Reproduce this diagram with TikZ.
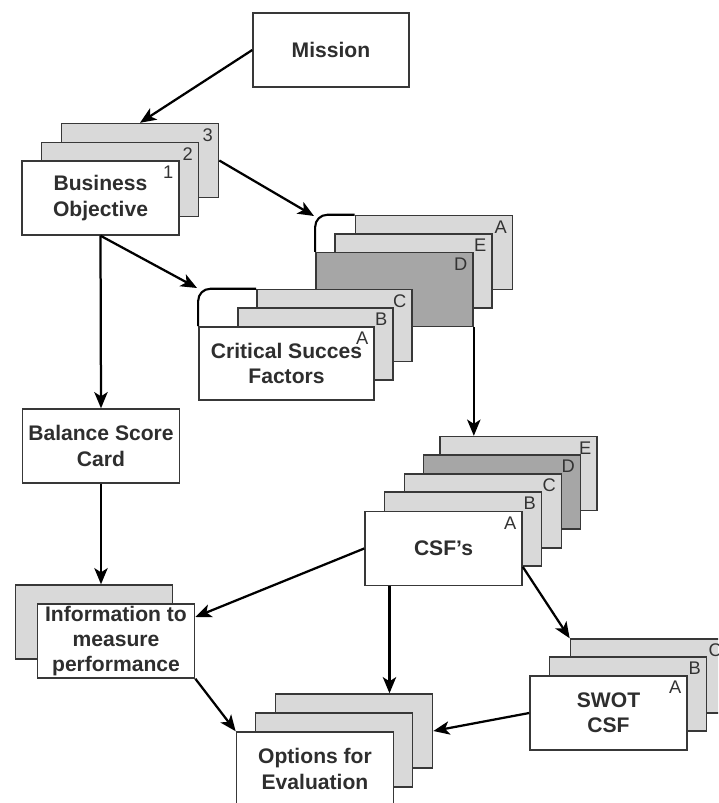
\documentclass[tikz,border=0pt]{standalone}
\usepackage{fontspec}
\setmainfont{Liberation Sans}
\usetikzlibrary{arrows.meta,positioning}

\definecolor{cardgray}{HTML}{D9D9D9}
\definecolor{cardshade}{HTML}{A6A6A6}

\begin{document}
\begin{tikzpicture}[
  x=0.025cm, y=-0.025cm,
  >={Stealth[length=11.5pt, width=9.5pt, inset=3pt]},
  card/.style={draw=black!78, line width=1pt, fill=white, minimum width=3.93cm,
               minimum height=1.85cm, inner sep=1pt, align=center, text=black!82,
               font=\fontsize{15}{18}\selectfont\bfseries},
  backcard/.style={card, fill=cardgray},
  shadecard/.style={card, fill=cardshade},
  tag/.style={anchor=north east, inner sep=0pt, text=black!80,
              font=\fontsize{13}{13}\selectfont},
  arr/.style={->, line width=1.6pt},
  tab/.style={line width=1.5pt, rounded corners=0.3cm},
]

\useasboundingbox (0,0) rectangle (718,803);
\clip (0,0) rectangle (718,803);

% ===== Mission =====
\node[card, minimum width=3.9cm] (mission) at (331,50) {Mission};

% ===== Business Objective (1,2,3) =====
\node[backcard] (bo3) at (140,160.5) {};
\node[backcard] (bo2) at (120,179.5) {};
\node[card] (bo1) at (100.5,198) {Business\\Objective};
\node[tag] at ([xshift=-4.5pt, yshift=-4pt]bo3.north east) {3};
\node[tag] at ([xshift=-4.5pt, yshift=-4pt]bo2.north east) {2};
\node[tag] at ([xshift=-4.5pt, yshift=-4pt]bo1.north east) {1};

% ===== Group stack (A,E,D) =====
\node[backcard] (grpA) at (434,252.5) {};
\node[backcard] (grpE) at (413.5,271) {};
\node[shadecard] (grpD) at (394.5,289.5) {};
\node[tag] at ([xshift=-4.5pt, yshift=-4pt]grpA.north east) {A};
\node[tag] at ([xshift=-4.5pt, yshift=-4pt]grpE.north east) {E};
\node[tag] at ([xshift=-4.5pt, yshift=-4pt]grpD.north east) {D};
\draw[tab] (grpD.north west) |- (grpA.north west);

% ===== Critical Succes Factors (A,B,C) =====
\node[backcard, minimum width=3.88cm, minimum height=1.8cm] (critC) at (334.5,325.5) {};
\node[backcard, minimum width=3.88cm, minimum height=1.8cm] (critB) at (315.5,344) {};
\node[card, minimum width=4.38cm, minimum height=1.83cm] (critA) at (286.5,363.5)
  {Critical Succes\\Factors};
\node[tag] at ([xshift=-4.5pt, yshift=-4pt]critC.north east) {C};
\node[tag] at ([xshift=-4.5pt, yshift=-4pt]critB.north east) {B};
\node[tag] at ([xshift=-4.5pt, yshift=-4pt]critA.north east) {A};
\draw[tab] (critA.north west) |- (critC.north west);

% ===== Balance Score Card =====
\node[card] (bsc) at (101,446) {Balance Score\\Card};

% ===== CSF's (A..E) =====
\node[backcard] (csfE) at (518.5,473.5) {};
\node[shadecard] (csfD) at (502,492) {};
\node[backcard] (csfC) at (483,511) {};
\node[backcard] (csfB) at (463,529) {};
\node[card] (csfA) at (443.5,548.5) {CSF's};
\node[tag] at ([xshift=-4.5pt, yshift=-4pt]csfE.north east) {E};
\node[tag] at ([xshift=-4.5pt, yshift=-4pt]csfD.north east) {D};
\node[tag] at ([xshift=-4.5pt, yshift=-4pt]csfC.north east) {C};
\node[tag] at ([xshift=-4.5pt, yshift=-4pt]csfB.north east) {B};
\node[tag] at ([xshift=-4.5pt, yshift=-4pt]csfA.north east) {A};

% ===== Information to measure performance =====
\node[backcard] (infoback) at (94,622) {};
\node[card, inner sep=0pt] (info) at (116,641) {Information to\\measure\\performance};

% ===== SWOT CSF (A,B,C) =====
\node[backcard] (swotC) at (649,676) {};
\node[backcard] (swotB) at (628,694) {};
\node[card] (swotA) at (608.5,713) {SWOT\\CSF};
\node[tag] at ([xshift=-4.5pt, yshift=-4pt]swotC.north east) {C};
\node[tag] at ([xshift=-4.5pt, yshift=-4pt]swotB.north east) {B};
\node[tag] at ([xshift=-4.5pt, yshift=-4pt]swotA.north east) {A};

% ===== Options for Evaluation =====
\node[backcard] (optback) at (354,731) {};
\node[backcard] (optmid) at (334,750) {};
\node[card] (opt) at (315,769) {Options for\\Evaluation};

% ===== Connectors =====
\coordinate (grptip) at (314,216);
\coordinate (crittip) at (197,288);

\draw[arr] (mission.west) -- (bo3.north);
\draw[arr] (bo3.east) -- (grptip);
\draw[arr] (bo1.south) -- (crittip);
\draw[arr] (bo1.south) -- (bsc.north);
\draw[arr] (bsc.south) -- (bsc.south |- infoback.north);
\draw[arr] (grpD.south east) -- (grpD.south east |- csfE.north);
\draw[arr] (csfA.west) -- ([yshift=0.6cm]info.east);
\draw[arr] ([yshift=-0.46cm]csfA.east) -- (swotC.north west);
\draw[arr] ([xshift=-1.35cm]csfA.south) -- ([xshift=-1.35cm]csfA.south |- optback.north);
\draw[arr] (swotA.west) -- (optback.east);
\draw[arr] (info.south east) -- (opt.north west);

\end{tikzpicture}
\end{document}
